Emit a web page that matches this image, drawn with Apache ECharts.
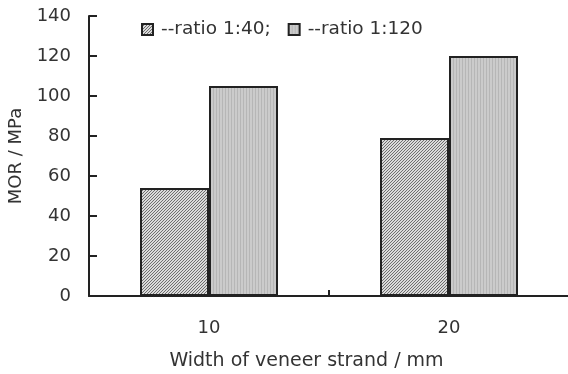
<!DOCTYPE html>
<html>
<head>
<meta charset="utf-8">
<script src="https://cdn.jsdelivr.net/npm/echarts@6/dist/echarts.min.js"></script>
<style>
html,body{margin:0;padding:0;background:#fff;}
#chart{width:568px;height:374px;}
</style>
</head>
<body>
<div id="chart"></div>
<script>
// Data
const categories = ['10', '20'];
const seriesNames = ['--ratio 1:40;', '--ratio 1:120'];
const ratio40 = [54, 79];
const ratio120 = [105, 120];
const yTicks = { min: 0, max: 140, interval: 20 };

function makePattern(w, h, draw) {
  const c = document.createElement('canvas');
  c.width = w; c.height = h;
  const ctx = c.getContext('2d');
  draw(ctx);
  return { image: c, repeat: 'repeat' };
}
const hatch = makePattern(3, 3, ctx => {
  ctx.fillStyle = '#dadada'; ctx.fillRect(0, 0, 3, 3);
  ctx.fillStyle = '#6e6e6e';
  ctx.fillRect(0, 2, 1, 1); ctx.fillRect(1, 1, 1, 1); ctx.fillRect(2, 0, 1, 1);
});
const grayFill = makePattern(3, 3, ctx => {
  ctx.fillStyle = '#cbcbcb'; ctx.fillRect(0, 0, 3, 3);
  ctx.fillStyle = '#b6b6b6'; ctx.fillRect(0, 0, 1, 3);
});

const font = 'DejaVu Sans';
const chart = echarts.init(document.getElementById('chart'), null, { renderer: 'canvas' });
chart.setOption({
  animation: false,
  backgroundColor: '#fff',
  textStyle: { fontFamily: font },
  legend: {
    left: 141, top: 20, padding: 0,
    itemWidth: 11, itemHeight: 11, itemGap: 17,
    itemStyle: { borderColor: '#222', borderWidth: 2 },
    textStyle: { fontFamily: font, fontSize: 18.5, color: '#333', padding: [0, 0, 0, 3] },
    data: seriesNames.map(n => ({ name: n, icon: 'rect' }))
  },
  grid: { left: 89, top: 16, width: 480, height: 280, containLabel: false, outerBoundsMode: 'none' },
  xAxis: {
    type: 'category',
    data: categories,
    name: 'Width of veneer strand / mm',
    nameLocation: 'middle',
    nameGap: 56,
    nameTextStyle: { fontFamily: font, fontSize: 19, color: '#333', padding: [0, 45, 0, 0] },
    axisLine: { lineStyle: { color: '#222', width: 2 } },
    axisTick: { show: true, inside: true, alignWithLabel: false, interval: 0, length: 6, lineStyle: { color: '#222', width: 2 } },
    axisLabel: { fontFamily: font, fontSize: 18, color: '#333', margin: 23 },
    splitLine: { show: false }
  },
  yAxis: {
    type: 'value',
    min: yTicks.min, max: yTicks.max, interval: yTicks.interval,
    name: 'MOR / MPa',
    nameLocation: 'middle',
    nameGap: 58,
    nameTextStyle: { fontFamily: font, fontSize: 18, color: '#333' },
    axisLine: { show: true, lineStyle: { color: '#222', width: 2 } },
    axisTick: { show: true, inside: true, length: 8, lineStyle: { color: '#222', width: 2 } },
    axisLabel: { fontFamily: font, fontSize: 18, color: '#333', margin: 18 },
    splitLine: { show: false }
  },
  series: [
    {
      name: seriesNames[0], type: 'bar', data: ratio40,
      barWidth: 69, barGap: '0%',
      itemStyle: { color: hatch, borderColor: '#222', borderWidth: 2 }
    },
    {
      name: seriesNames[1], type: 'bar', data: ratio120,
      barWidth: 69, barGap: '0%',
      itemStyle: { color: grayFill, borderColor: '#222', borderWidth: 2 }
    }
  ]
});
</script>
</body>
</html>
